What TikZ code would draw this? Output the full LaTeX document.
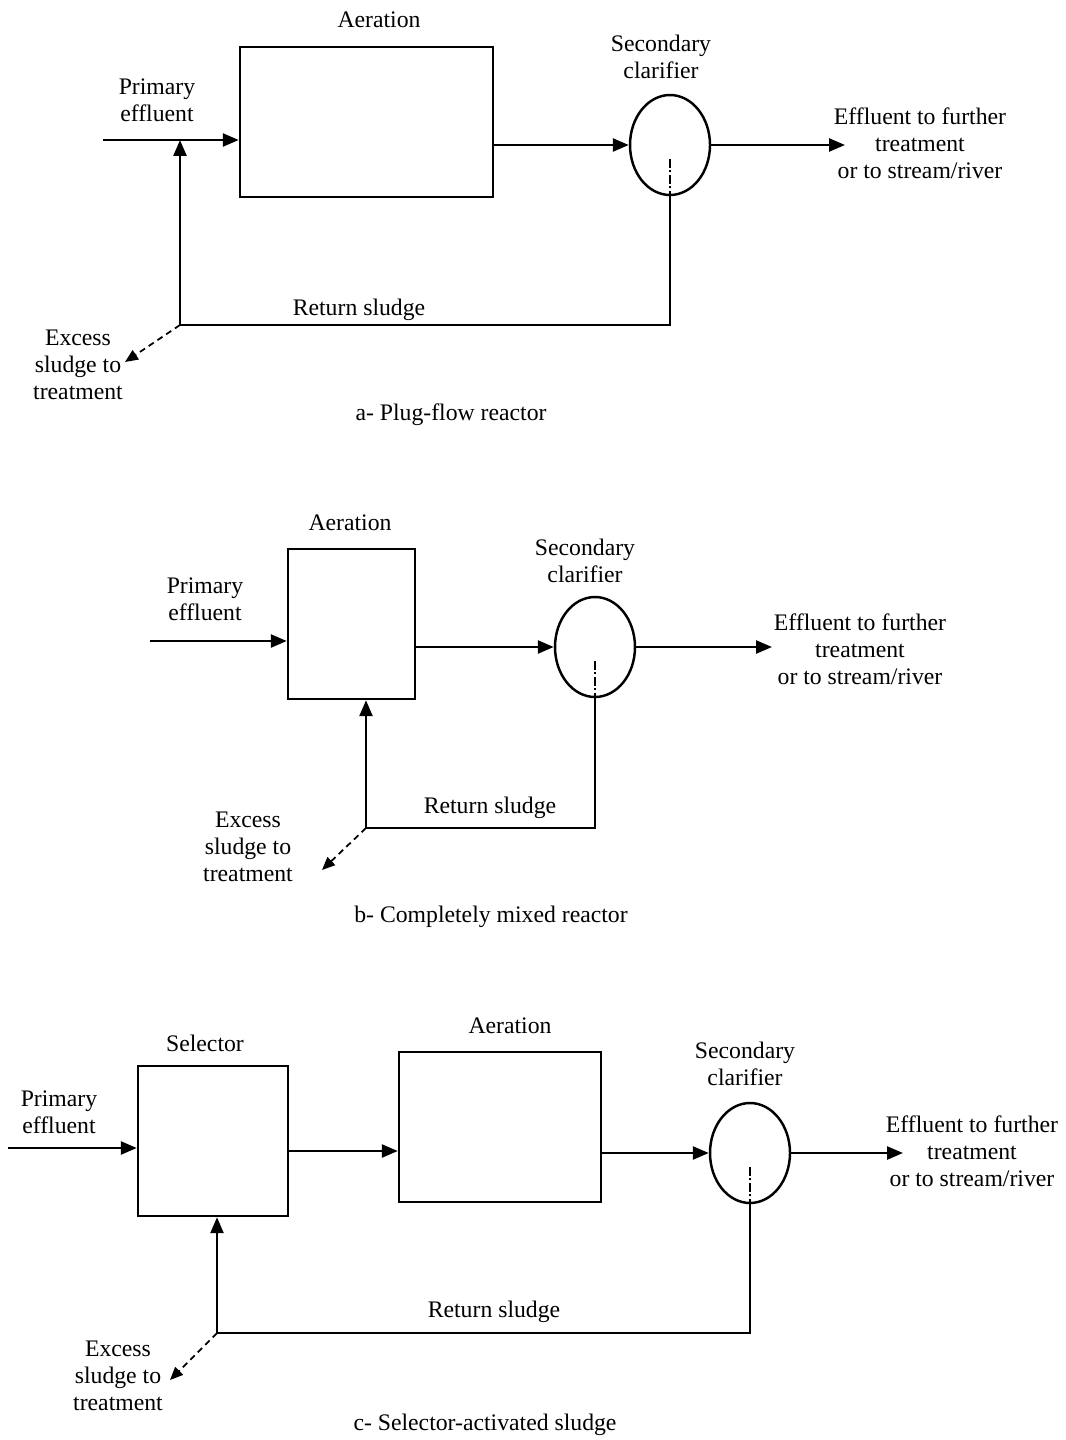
\documentclass[tikz,border=0pt]{standalone}
\usepackage{fontspec}
\setmainfont{Liberation Serif}
\usetikzlibrary{positioning, arrows.meta, shapes.geometric}

\begin{document}
\begin{tikzpicture}[x=0.02cm, y=-0.02cm,
    box/.style={draw, line width=1.4pt, minimum height=3cm, inner sep=0pt},
    clar/.style={draw, ellipse, line width=1.4pt, minimum width=1.6cm, minimum height=2cm, inner sep=0pt},
    arr/.style={-{Triangle[length=3.2mm, width=2.6mm]}, line width=1.4pt},
    excess/.style={-{Triangle[length=2.6mm, width=2.2mm]}, line width=1pt, dash pattern=on 3.5pt off 2.5pt},
    axis/.style={line width=0.7pt, dash pattern=on 5pt off 1.5pt on 1pt off 1.5pt},
    lbl/.style={font=\fontsize{13.5}{15.5}\selectfont, align=center, inner sep=0pt}
  ]
  \useasboundingbox (0,0) rectangle (1065,1440);

  % a- plug-flow reactor
  \node[box, minimum width=5.06cm] (aer1) at (366.5,122) {};
  \node[clar] (clar1) at (670,145) {};
  \coordinate (in1) at (103,140);
  \coordinate (j1) at (180,140);
  \coordinate (r1) at (180,325);
  \coordinate (out1) at (845,145);
  \coordinate (ex1) at (125,362);
  \node[lbl] (aerl1) at (379,20) {Aeration};
  \node[lbl] (pe1) at (157,100) {Primary\\effluent};
  \node[lbl] (scl1) at (661,57) {Secondary\\clarifier};
  \node[lbl] (eff1) at (920,143) {Effluent to further\\treatment\\or to stream/river};
  \node[lbl] (rs1) at (359,310) {Return sludge};
  \node[lbl] (xs1) at (78,365) {Excess\\sludge to\\treatment};
  \node[lbl] (cap1) at (451,415) {a- Plug-flow reactor};

  \draw[arr] (in1) -- (in1 -| aer1.west);
  \draw[arr] (aer1.east |- clar1) -- (clar1.west);
  \draw[arr] (clar1.east) -- (out1);
  \draw[arr] (clar1.south) |- (r1) -- (j1);
  \draw[axis] (clar1.center) ++(0,14) -- (clar1.south);
  \draw[excess] (r1) -- (ex1);

  % b- completely mixed reactor
  \node[box, minimum width=2.54cm] (aer2) at (351.5,624) {};
  \node[clar] (clar2) at (595,647) {};
  \coordinate (in2) at (150,641);
  \coordinate (r2) at (366,828);
  \coordinate (out2) at (772,647);
  \coordinate (ex2) at (322,870);
  \node[lbl] (aerl2) at (350,523) {Aeration};
  \node[lbl] (pe2) at (205,599) {Primary\\effluent};
  \node[lbl] (scl2) at (585,561) {Secondary\\clarifier};
  \node[lbl] (eff2) at (860,649) {Effluent to further\\treatment\\or to stream/river};
  \node[lbl] (rs2) at (490,808) {Return sludge};
  \node[lbl] (xs2) at (248,847) {Excess\\sludge to\\treatment};
  \node[lbl] (cap2) at (491,917) {b- Completely mixed reactor};

  \draw[arr] (in2) -- (in2 -| aer2.west);
  \draw[arr] (aer2.east |- clar2) -- (clar2.west);
  \draw[arr] (clar2.east) -- (out2);
  \draw[arr] (clar2.south) |- (r2) -- (r2 |- aer2.south);
  \draw[axis] (clar2.center) ++(0,14) -- (clar2.south);
  \draw[excess] (r2) -- (ex2);

  % c- selector-activated sludge
  \node[box, minimum width=3cm] (sel3) at (213,1141) {};
  \node[box, minimum width=4.04cm] (aer3) at (500,1127) {};
  \node[clar] (clar3) at (750,1153) {};
  \coordinate (in3) at (8,1148);
  \coordinate (r3) at (217,1333);
  \coordinate (out3) at (903,1153);
  \coordinate (ex3) at (170,1380);
  \node[lbl] (sell3) at (205,1043) {Selector};
  \node[lbl] (aerl3) at (510,1026) {Aeration};
  \node[lbl] (pe3) at (59,1112) {Primary\\effluent};
  \node[lbl] (scl3) at (745,1064) {Secondary\\clarifier};
  \node[lbl] (eff3) at (972,1151) {Effluent to further\\treatment\\or to stream/river};
  \node[lbl] (rs3) at (494,1312) {Return sludge};
  \node[lbl] (xs3) at (118,1376) {Excess\\sludge to\\treatment};
  \node[lbl] (cap3) at (485,1425) {c- Selector-activated sludge};

  \draw[arr] (in3) -- (in3 -| sel3.west);
  \draw[arr] (sel3.east |- 0,1151) -- (aer3.west |- 0,1151);
  \draw[arr] (aer3.east |- clar3) -- (clar3.west);
  \draw[arr] (clar3.east) -- (out3);
  \draw[arr] (clar3.south) |- (r3) -- (r3 |- sel3.south);
  \draw[axis] (clar3.center) ++(0,14) -- (clar3.south);
  \draw[excess] (r3) -- (ex3);
\end{tikzpicture}
\end{document}
